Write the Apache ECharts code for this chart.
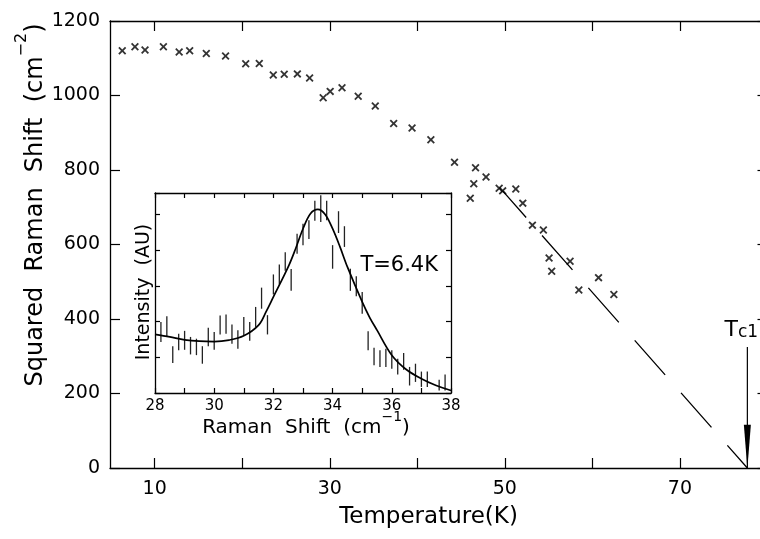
<!DOCTYPE html>
<html><head><meta charset="utf-8">
<script src="https://cdn.jsdelivr.net/npm/echarts@6/dist/echarts.min.js"></script>
<style>html,body{margin:0;padding:0;background:#fff}#c{width:760px;height:539px}</style>
</head><body><div id="c"></div>
<script>
// ---- main plot data ----
const tempK = [6.3,7.75,8.9,11.0,12.8,14.0,15.9,18.1,20.4,21.95,23.55,24.8,26.3,27.7,29.25,30.05,31.4,33.25,35.2,37.3,39.4,41.55,44.25,46.65,46.45,46.05,47.85,49.35,49.75,51.25,52.05,53.15,54.4,55.05,55.35,57.45,58.45,60.7,62.45];
const shiftSq = [1120,1131,1122,1131,1117,1120,1113,1106,1085,1086,1055,1057,1058,1047,994,1011,1021,998,972,925,913,881,821,806,763,724,781,751,744,749,711,652,639,564,528,555,478,511,466];
const fitT = [49.75, 77.7];
const fitV = [744, 0];
const tc1 = 77.7;
const arrowTop = 325;
const xTicks = [10,20,30,40,50,60,70];
const xLabels = [10,30,50,70];
// ---- inset data ----
const insetShift = [28.2,28.4,28.6,28.8,29.0,29.2,29.4,29.6,29.8,30.0,30.2,30.4,30.6,30.8,31.0,31.2,31.4,31.6,31.8,32.0,32.2,32.4,32.6,32.8,33.0,33.2,33.4,33.6,33.8,34.0,34.2,34.4,34.6,34.8,35.0,35.2,35.4,35.6,35.8,36.0,36.2,36.4,36.6,36.8,37.0,37.2,37.6,37.8];
const insetHigh = [1.99,2.15,1.31,1.66,1.74,1.57,1.52,1.31,1.83,1.71,2.17,2.20,1.92,1.76,2.13,1.99,2.41,2.95,2.18,3.32,3.60,3.94,3.47,4.46,4.74,4.84,5.38,5.54,5.38,4.14,5.09,4.67,3.48,3.27,2.83,1.73,1.27,1.20,1.24,1.20,0.96,1.12,0.73,0.82,0.60,0.60,0.37,0.52];
const insetLow = [1.43,1.59,0.84,1.20,1.21,1.08,1.06,0.82,1.31,1.21,1.64,1.66,1.38,1.24,1.62,1.46,1.85,2.36,1.64,2.76,3.04,3.42,2.86,3.90,4.14,4.31,4.82,4.79,4.84,3.48,4.48,4.09,2.86,2.71,2.22,1.20,0.78,0.73,0.73,0.68,0.52,0.65,0.21,0.31,0.17,0.17,0.07,0.07];
const curveShift = [28,28.5,29,29.5,30,30.5,31,31.5,31.75,32,32.5,32.75,33,33.25,33.5,33.75,34,34.25,34.5,35,35.25,35.5,36,36.5,37,37.5,38];
const curveInt = [1.64,1.57,1.49,1.45,1.44,1.48,1.60,1.90,2.27,2.69,3.53,4.04,4.60,5.02,5.14,5.00,4.60,4.09,3.53,2.55,2.12,1.76,1.06,0.65,0.40,0.21,0.07];
const insetTicks = [28,29,30,31,32,33,34,35,36,37,38];
const insetLabels = [28,30,32,34,36,38];
const tempLabelPos = [36.25, 3.58];

const FF = '"DejaVu Sans", sans-serif';
const axLine = () => ({show:true, onZero:false, lineStyle:{color:'#000', width:1.3}});
const tickMain = extra => Object.assign({show:true, inside:true, length:10, lineStyle:{color:'#000', width:1.2}}, extra || {});
const tickInset = extra => Object.assign({show:true, inside:true, length:5, lineStyle:{color:'#000', width:1.2}}, extra || {});
const xPath = 'path://M0,1.6L1.6,0L5,3.4L8.4,0L10,1.6L6.6,5L10,8.4L8.4,10L5,6.6L1.6,10L0,8.4L3.4,5Z';
const plain = v => String(v);

const chart = echarts.init(document.getElementById('c'), null, {renderer:'canvas'});
chart.setOption({
  animation:false,
  backgroundColor:'#fff',
  grid:[
    {left:110, top:21, width:657.5, height:447, outerBoundsMode:'none', containLabel:false},
    {left:155, top:193, width:296, height:200, show:true, backgroundColor:'#fff', borderWidth:0, outerBoundsMode:'none', containLabel:false}
  ],
  xAxis:[
    {gridIndex:0, type:'value', min:4.9, max:80, position:'bottom', axisLine:axLine(),
     axisTick:tickMain({customValues:xTicks}),
     axisLabel:{customValues:xLabels, fontSize:19, margin:12, color:'#000', fontFamily:FF, formatter:plain},
     splitLine:{show:false}},
    {gridIndex:0, type:'value', min:4.9, max:80, position:'top', axisLine:axLine(),
     axisTick:tickMain({customValues:xTicks}),
     axisLabel:{show:false}, splitLine:{show:false}},
    {gridIndex:1, type:'value', min:28, max:38, interval:2, position:'bottom', axisLine:axLine(),
     axisTick:tickInset({customValues:insetTicks}),
     axisLabel:{customValues:insetLabels, fontSize:15, margin:6, color:'#000', fontFamily:FF, formatter:plain},
     splitLine:{show:false}},
    {gridIndex:1, type:'value', min:28, max:38, position:'top', axisLine:axLine(),
     axisTick:tickInset({customValues:insetTicks}),
     axisLabel:{show:false}, splitLine:{show:false}}
  ],
  yAxis:[
    {gridIndex:0, type:'value', min:0, max:1200, interval:200, position:'left', axisLine:axLine(),
     axisTick:tickMain(),
     axisLabel:{fontSize:19, margin:10, color:'#000', fontFamily:FF, formatter:plain}, splitLine:{show:false}},
    {gridIndex:0, type:'value', min:0, max:1200, interval:200, position:'right', axisLine:axLine(),
     axisTick:tickMain(),
     axisLabel:{show:false}, splitLine:{show:false}},
    {gridIndex:1, type:'value', min:0, max:5.6, interval:1, position:'left', axisLine:axLine(),
     axisTick:tickInset(),
     axisLabel:{show:false}, splitLine:{show:false}},
    {gridIndex:1, type:'value', min:0, max:5.6, interval:1, position:'right', axisLine:axLine(),
     axisTick:tickInset(),
     axisLabel:{show:false}, splitLine:{show:false}}
  ],
  series:[
    {type:'scatter', xAxisIndex:0, yAxisIndex:0, symbol:xPath, symbolSize:8,
     itemStyle:{color:'#000'}, data:tempK.map((t,i)=>[t, shiftSq[i]])},
    {type:'line', xAxisIndex:0, yAxisIndex:0, symbol:'none',
     lineStyle:{color:'#000', width:1.3, type:[46,24], dashOffset:10.5},
     data:fitT.map((t,i)=>[t, fitV[i]])},
    {type:'line', xAxisIndex:0, yAxisIndex:0, symbol:'none',
     lineStyle:{color:'#000', width:1.2}, data:[[tc1, arrowTop],[tc1, 0]],
     markPoint:{data:[
       {coord:[tc1, 57], symbol:'triangle', symbolSize:[7,44], symbolRotate:180,
        itemStyle:{color:'#000'}, label:{show:false}},
       {coord:[tc1, arrowTop], symbol:'circle', symbolSize:0,
        label:{show:true, position:'top', distance:6, offset:[-6,0], formatter:'{t|T}{s|c1}',
          rich:{t:{fontSize:22, fontFamily:FF, color:'#000', verticalAlign:'bottom'},
                s:{fontSize:17, fontFamily:FF, color:'#000', verticalAlign:'bottom'}}}}
     ]}},
    {type:'custom', xAxisIndex:2, yAxisIndex:2,
     data:insetShift.map((x,i)=>[x, insetLow[i], insetHigh[i]]),
     encode:{x:0, y:[1,2]},
     renderItem:function(params, api){
       const x = api.value(0);
       const p1 = api.coord([x, api.value(1)]);
       const p2 = api.coord([x, api.value(2)]);
       return {type:'line', shape:{x1:p1[0], y1:p1[1], x2:p2[0], y2:p2[1]},
               style:{stroke:'#222', lineWidth:1.3}};
     }},
    {type:'line', xAxisIndex:2, yAxisIndex:2, symbol:'none', smooth:0.35,
     lineStyle:{color:'#000', width:1.7}, data:curveShift.map((x,i)=>[x, curveInt[i]]),
     markPoint:{data:[{coord:tempLabelPos, symbol:'circle', symbolSize:0,
       label:{show:true, position:'inside', formatter:'T=6.4K', fontSize:21, fontFamily:FF, color:'#000'}}]}}
  ],
  graphic:[
    {type:'text', x:428.5, y:517, style:{text:'Temperature(K)', fontSize:23, fontFamily:FF, fill:'#000', align:'center', verticalAlign:'middle'}},
    {type:'text', x:31, y:205, rotation:Math.PI/2,
     style:{text:'{n|Squared  Raman  Shift  (cm}{s|−2}{n|)}', align:'center', verticalAlign:'middle',
       rich:{n:{fontSize:24, fontFamily:FF, fill:'#000', lineHeight:34, verticalAlign:'bottom'},
             s:{fontSize:16, fontFamily:FF, fill:'#000', lineHeight:18, verticalAlign:'top'}}}},
    {type:'text', x:306, y:424, 
     style:{text:'{n|Raman  Shift  (cm}{s|−1}{n|)}', align:'center', verticalAlign:'middle',
       rich:{n:{fontSize:20, fontFamily:FF, fill:'#000', lineHeight:28, verticalAlign:'bottom'},
             s:{fontSize:14, fontFamily:FF, fill:'#000', lineHeight:15, verticalAlign:'top'}}}},
    {type:'text', x:144, y:292, rotation:Math.PI/2,
     style:{text:'Intensity  (AU)', fontSize:19, fontFamily:FF, fill:'#000', align:'center', verticalAlign:'middle'}}
  ]
});
</script></body></html>
